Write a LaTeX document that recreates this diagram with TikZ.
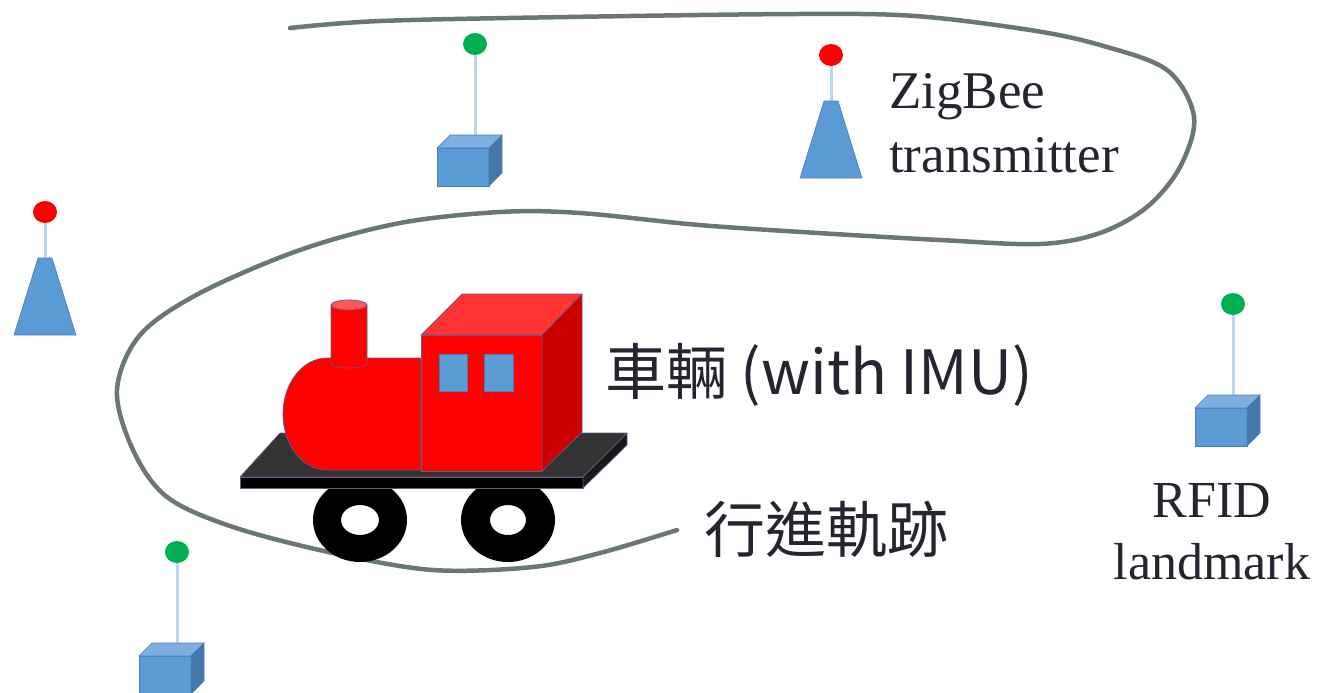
\documentclass[tikz,border=0pt]{standalone}
\usepackage{fontspec}
\setmainfont{Liberation Serif}
\newfontfamily\cjk{Noto Sans CJK TC}

\definecolor{trackgray}{HTML}{6B786E}
\definecolor{inkdark}{HTML}{25252F}
\definecolor{devblue}{HTML}{5B9BD5}
\definecolor{devtop}{HTML}{7DB0E0}
\definecolor{devside}{HTML}{4677AB}
\definecolor{devedge}{HTML}{4A7EB8}
\definecolor{stemblue}{HTML}{BDD7EE}
\definecolor{dotgreen}{HTML}{00B050}
\definecolor{dotred}{HTML}{FF0000}
\definecolor{trainedge}{HTML}{6A5A80}

\tikzset{
  track/.style={draw=trackgray, line width=4.5pt, line cap=round},
  stem/.style={draw=stemblue, line width=3pt},
  devface/.style={draw=devedge, line width=0.6pt},
  trainface/.style={draw=trainedge, line width=0.7pt, line join=round},
  serif label/.style={text=inkdark, font=\fontsize{53}{64}\selectfont, inner sep=0pt},
  cjk label/.style={text=inkdark, font=\cjk\fontsize{61}{61}\selectfont, inner sep=0pt},
  % RFID landmark: cube with an antenna; origin = top-left of the front face
  rfidcube/.pic={
    \draw[stem] (38,-104) -- (38,-12);
    \fill[dotgreen] (38,-104) ellipse[x radius=12, y radius=11];
    \filldraw[devface, fill=devblue] (0,0) rectangle (52,38);
    \filldraw[devface, fill=devtop] (0,0) -- (13,-13) -- (65,-13) -- (52,0) -- cycle;
    \filldraw[devface, fill=devside] (52,0) -- (65,-13) -- (65,25) -- (52,38) -- cycle;
  },
  % ZigBee transmitter: tapered mast; origin = centre of the base
  zigbee/.pic={
    \draw[stem] (0,-123) -- (0,-70);
    \fill[dotred] (0,-123) ellipse[x radius=12, y radius=11];
    \filldraw[devface, fill=devblue] (-31,0) -- (-7,-77) -- (7,-77) -- (31,0) -- cycle;
  }
}

\begin{document}
\begin{tikzpicture}[x=1pt, y=-1pt]
\useasboundingbox (0,0) rectangle (1320,693);

% travelled trajectory
\draw[track] plot[smooth, tension=0.55] coordinates {
  (290,28) (380,21) (568,17) (799,14) (915,16) (1030,30) (1100,45)
  (1167,70) (1194,117) (1180,167) (1147,207) (1100,233) (1040,244)
  (940,240) (818,233) (699,225) (580,213) (500,212) (400,223)
  (300,250) (200,293) (140,335) (117,390) (133,450) (167,497)
  (233,527) (333,553) (433,570) (533,567) (600,553) (677,530)};

% beacons
\pic at (437,148) {rfidcube};
\pic at (1195,408) {rfidcube};
\pic at (139,656) {rfidcube};
\pic at (831,178) {zigbee};
\pic at (45,335) {zigbee};

% locomotive: wheels
\fill[black, even odd rule] (360,520) ellipse[x radius=47, y radius=42]
                           (360,520) ellipse[x radius=19, y radius=15];
\fill[black, even odd rule] (508,520) ellipse[x radius=47, y radius=42]
                           (508,520) ellipse[x radius=18, y radius=15];
% chassis plate
\filldraw[trainface, fill=black!80] (280,433) -- (627,433) -- (583,477) -- (240,477) -- cycle;
\filldraw[trainface, fill=black] (240,477) rectangle (583,488);
\filldraw[trainface, fill=black!90] (583,477) -- (627,433) -- (627,445) -- (583,488) -- cycle;
% boiler
\filldraw[trainface, fill=red] (327,470) arc[start angle=90, end angle=270, x radius=44, y radius=56]
  -- (421,358) -- (421,470) -- cycle;
% chimney
\filldraw[trainface, fill=red] (331,305) -- (331,363)
  arc[start angle=180, end angle=0, x radius=18, y radius=5] -- (367,305) -- cycle;
\filldraw[trainface, fill={rgb,255:red,255;green,85;blue,85}] (349,305) ellipse[x radius=18, y radius=5];
% cab
\filldraw[trainface, fill=red] (421,335) rectangle (542,471);
\filldraw[trainface, fill={rgb,255:red,255;green,51;blue,51}] (421,335) -- (462,294) -- (582,294) -- (542,335) -- cycle;
\filldraw[trainface, fill={rgb,255:red,204;green,0;blue,0}] (542,335) -- (582,294) -- (582,432) -- (542,471) -- cycle;
\filldraw[draw=devedge, line width=0.5pt, fill=devblue] (439,354) rectangle (467,391);
\filldraw[draw=devedge, line width=0.5pt, fill=devblue] (484,354) rectangle (513,391);

% labels (base anchor sits on the last line)
\node[serif label, align=left, anchor=base west] (zigtext) at (889,172) {ZigBee\\transmitter};
\node[serif label, align=center, anchor=base, font=\fontsize{52}{62}\selectfont] (rfidtext) at (1212,579) {RFID\\landmark};
\node[cjk label, anchor=base west] (cartext) at (605,394) {車輛 (with IMU)};
\node[cjk label, anchor=base west] (tracktext) at (704,552) {行進軌跡};
\end{tikzpicture}
\end{document}
